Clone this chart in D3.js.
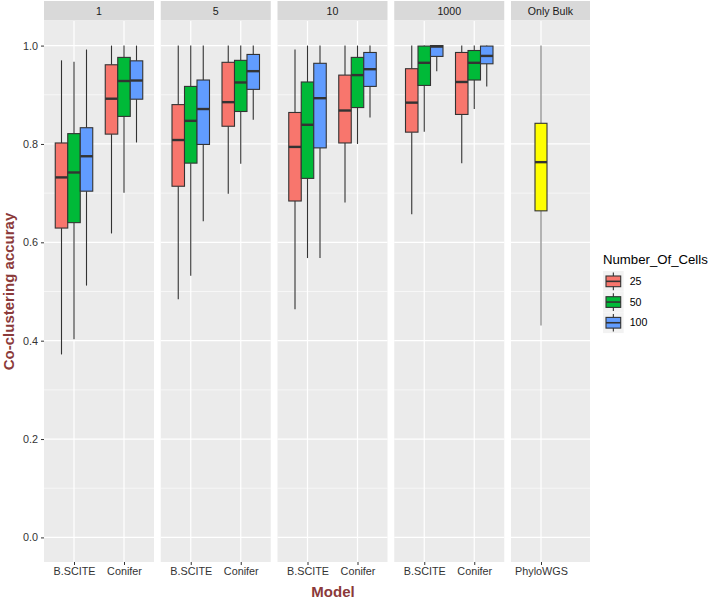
<!DOCTYPE html>
<html>
<head>
<meta charset="utf-8">
<script src="https://cdn.jsdelivr.net/npm/d3@7"></script>
<style>
  body { margin: 0; background: #fff; }
  svg { font-family: "Liberation Sans", Arial, sans-serif; }
</style>
</head>
<body>
<svg width="708" height="599"></svg>
<script>
// facets, categories and groups
const panels = ['1', '5', '10', '1000'];
const models = ['B.SCITE', 'Conifer'];
const cells = ['25', '50', '100'];
const cellColors = ['#F8766D', '#00BA38', '#619CFF'];

// [whisker low, q1, median, q3, whisker high], B.SCITE 25/50/100 then Conifer 25/50/100
const stats1 = [
  [0.372, 0.629, 0.732, 0.802, 0.970], [0.403, 0.640, 0.742, 0.821, 0.967], [0.512, 0.704, 0.775, 0.833, 0.992],
  [0.618, 0.820, 0.892, 0.961, 1.000], [0.701, 0.856, 0.928, 0.976, 1.000], [0.803, 0.891, 0.929, 0.969, 1.000]
];
const stats5 = [
  [0.484, 0.714, 0.808, 0.880, 1.000], [0.532, 0.761, 0.847, 0.917, 1.000], [0.643, 0.799, 0.871, 0.930, 1.000],
  [0.699, 0.836, 0.885, 0.966, 1.000], [0.760, 0.866, 0.925, 0.970, 1.000], [0.849, 0.911, 0.948, 0.982, 1.000]
];
const stats10 = [
  [0.464, 0.684, 0.794, 0.864, 0.992], [0.568, 0.730, 0.839, 0.926, 1.000], [0.568, 0.792, 0.893, 0.964, 1.000],
  [0.681, 0.802, 0.868, 0.940, 1.000], [0.800, 0.874, 0.940, 0.976, 1.000], [0.854, 0.917, 0.952, 0.986, 1.000]
];
const stats1000 = [
  [0.657, 0.824, 0.884, 0.953, 1.000], [0.825, 0.919, 0.965, 0.999, 1.000], [0.948, 0.978, 0.998, 1.000, 1.000],
  [0.761, 0.860, 0.926, 0.986, 1.000], [0.871, 0.930, 0.965, 0.990, 1.000], [0.917, 0.963, 0.979, 0.999, 1.000]
];
const panelStats = [stats1, stats5, stats10, stats1000];

const bulkPanel = 'Only Bulk';
const bulkModel = 'PhyloWGS';
const bulkStats = [0.431, 0.664, 0.763, 0.842, 1.000];

const yTicks = [0, 0.2, 0.4, 0.6, 0.8, 1.0];
const yMinor = [0.1, 0.3, 0.5, 0.7, 0.9];

(function (d3) {
  'use strict';
  const svg = d3.select('svg');
  const top = 21, bottom = 562, stripTop = 1;
  const left0 = 44, panelW = 110, gap = 6.75, bulkW = 79;

  const y = d3.scaleLinear().domain([-0.05, 1.05]).range([bottom, top]);
  const dodge = d3.scaleBand().domain(cells).range([-18.75, 18.75]);

  const drawPanel = (px, pw, label, xScale, cats) => {
    const g = svg.append('g');
    g.append('rect').attr('x', px).attr('y', top).attr('width', pw).attr('height', bottom - top)
      .attr('fill', '#ebebeb');
    g.selectAll('.minor').data(yMinor).enter().append('line')
      .attr('x1', px).attr('x2', px + pw).attr('y1', y).attr('y2', y)
      .attr('stroke', '#fff').attr('stroke-width', 0.6);
    g.selectAll('.major').data(yTicks).enter().append('line')
      .attr('x1', px).attr('x2', px + pw).attr('y1', y).attr('y2', y)
      .attr('stroke', '#fff').attr('stroke-width', 1.2);
    g.selectAll('.vmajor').data(cats).enter().append('line')
      .attr('x1', xScale).attr('x2', xScale).attr('y1', top).attr('y2', bottom)
      .attr('stroke', '#fff').attr('stroke-width', 1.2);
    // strip
    g.append('rect').attr('x', px).attr('y', stripTop).attr('width', pw).attr('height', top - stripTop - 0.5)
      .attr('fill', '#d9d9d9');
    g.append('text').attr('x', px + pw / 2).attr('y', (stripTop + top) / 2).attr('dy', '0.35em')
      .attr('text-anchor', 'middle').attr('font-size', 10.6).attr('fill', '#1a1a1a').text(label);
    // x axis
    const ax = g.append('g').attr('transform', `translate(0,${bottom})`)
      .call(d3.axisBottom(xScale).tickSize(3).tickPadding(2.5));
    ax.select('.domain').remove();
    ax.selectAll('line').attr('stroke', '#333');
    ax.selectAll('text').attr('font-size', 10.8).attr('fill', '#333').attr('font-family', null);
    return g;
  };

  const drawBox = (g, cx, w, s, fill, whiskerColor) => {
    const [lo, q1, med, q3, hi] = s;
    g.append('line').attr('x1', cx).attr('x2', cx).attr('y1', y(hi)).attr('y2', y(q3))
      .attr('stroke', whiskerColor).attr('stroke-width', 1.1);
    g.append('line').attr('x1', cx).attr('x2', cx).attr('y1', y(q1)).attr('y2', y(lo))
      .attr('stroke', whiskerColor).attr('stroke-width', 1.1);
    g.append('rect').attr('x', cx - w / 2).attr('y', y(q3)).attr('width', w).attr('height', y(q1) - y(q3))
      .attr('fill', fill).attr('stroke', '#333').attr('stroke-width', 1.1);
    g.append('line').attr('x1', cx - w / 2).attr('x2', cx + w / 2).attr('y1', y(med)).attr('y2', y(med))
      .attr('stroke', '#333').attr('stroke-width', 2.4);
  };

  panels.forEach((p, i) => {
    const px = left0 + i * (panelW + gap);
    const x = d3.scalePoint().domain(models).range([px, px + panelW]).padding(0.6);
    const g = drawPanel(px, panelW, p, x, models);
    models.forEach((m, mi) => {
      cells.forEach((c, ci) => {
        const s = panelStats[i][mi * 3 + ci];
        drawBox(g, x(m) + dodge(c) + dodge.bandwidth() / 2, dodge.bandwidth(), s, cellColors[ci], '#333');
      });
    });
  });

  // only bulk panel
  const bx = left0 + 4 * (panelW + gap);
  const xb = d3.scalePoint().domain([bulkModel]).range([bx, bx + 60]).padding(0.5);
  const gb = drawPanel(bx, bulkW, bulkPanel, xb, [bulkModel]);
  drawBox(gb, xb(bulkModel), 12, bulkStats, '#FFFF00', '#7a7a7a');

  // y axis
  const ay = svg.append('g').attr('transform', `translate(${left0},0)`)
    .call(d3.axisLeft(y).tickValues(yTicks).tickFormat(d3.format('.1f')).tickSize(3).tickPadding(3));
  ay.select('.domain').remove();
  ay.selectAll('line').attr('stroke', '#333');
  ay.selectAll('text').attr('font-size', 10.8).attr('fill', '#333').attr('font-family', null);

  // axis titles
  svg.append('text').attr('x', 333).attr('y', 597)
    .attr('text-anchor', 'middle').attr('font-size', 15).attr('font-weight', 'bold')
    .attr('fill', '#8B3A3A').text('Model');
  svg.append('text').attr('transform', `translate(13.5,${(top + bottom) / 2}) rotate(-90)`)
    .attr('text-anchor', 'middle').attr('font-size', 15).attr('font-weight', 'bold')
    .attr('fill', '#8B3A3A').text('Co-clustering accuray');

  // legend
  const lg = svg.append('g').attr('transform', 'translate(603,0)');
  lg.append('text').attr('x', 0).attr('y', 264).attr('font-size', 13.2).attr('fill', '#000')
    .text('Number_Of_Cells');
  const keyH = 20.7;
  const keys = lg.selectAll('.key').data(cells).enter().append('g')
    .attr('transform', (d, i) => `translate(0,${271 + i * keyH})`);
  keys.append('rect').attr('width', keyH).attr('height', keyH).attr('fill', '#f2f2f2');
  keys.append('line').attr('x1', keyH / 2).attr('x2', keyH / 2).attr('y1', 1.5).attr('y2', keyH - 1.5)
    .attr('stroke', '#333').attr('stroke-width', 1.1);
  keys.append('rect').attr('x', 3).attr('y', 5).attr('width', keyH - 6).attr('height', keyH - 10)
    .attr('fill', (d, i) => cellColors[i]).attr('stroke', '#333').attr('stroke-width', 1.1);
  keys.append('line').attr('x1', 3).attr('x2', keyH - 3).attr('y1', keyH / 2).attr('y2', keyH / 2)
    .attr('stroke', '#333').attr('stroke-width', 1.6);
  keys.append('text').attr('x', keyH + 6).attr('y', keyH / 2).attr('dy', '0.35em')
    .attr('font-size', 10.6).attr('fill', '#000').text(d => d);
}(d3));
</script>
</body>
</html>
